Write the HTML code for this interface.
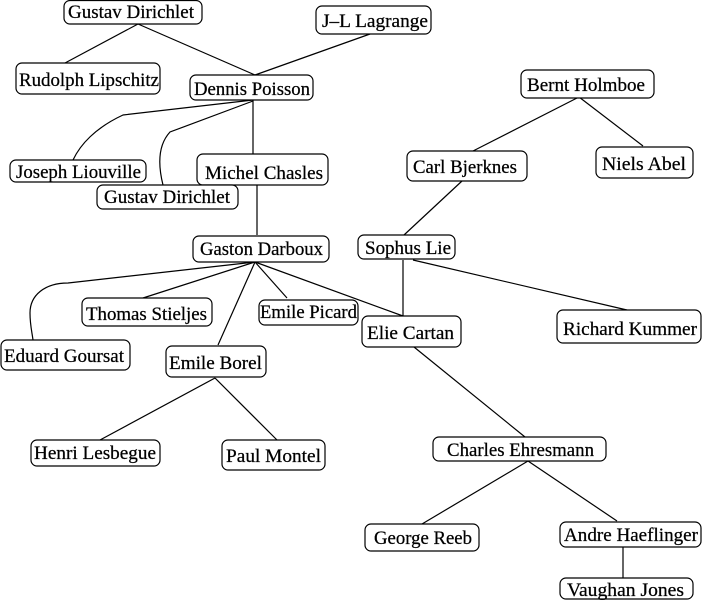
<!DOCTYPE html>
<html><head><meta charset="utf-8"><style>html,body{margin:0;padding:0;background:#fff}svg{display:block}
text{font-family:"Liberation Serif","Times New Roman",Times,serif;font-size:19px}</style></head>
<body>
<svg width="703" height="600" viewBox="0 0 703 600" xmlns="http://www.w3.org/2000/svg">
<g stroke="#000" stroke-width="1.2" fill="none">
<line x1="138" y1="24" x2="65" y2="63"/>
<line x1="138" y1="24" x2="255" y2="75"/>
<line x1="370" y1="34" x2="255" y2="75"/>
<path d="M253 100 L123 115 C95 128 80 145 73 160"/>
<path d="M253 101 L170 132 C158 145 158 165 163 185"/>
<line x1="253" y1="100" x2="253" y2="154"/>
<line x1="257" y1="185" x2="257" y2="235"/>
<path d="M255 262 L68 283 C45 283 30 295 30 313 C30 325 32 332 33 340"/>
<line x1="255" y1="262" x2="143" y2="298"/>
<line x1="255" y1="262" x2="287" y2="298"/>
<line x1="255" y1="262" x2="218" y2="345"/>
<line x1="255" y1="262" x2="403" y2="316"/>
<line x1="215" y1="378" x2="100" y2="440"/>
<line x1="215" y1="378" x2="277" y2="440"/>
<line x1="579" y1="97" x2="473" y2="151"/>
<line x1="579" y1="97" x2="643" y2="146"/>
<line x1="462" y1="181" x2="404" y2="235"/>
<line x1="403" y1="260" x2="403" y2="317"/>
<line x1="413" y1="260" x2="627" y2="310"/>
<line x1="414" y1="347" x2="525" y2="437"/>
<line x1="528" y1="461" x2="422" y2="524"/>
<line x1="528" y1="461" x2="617" y2="521"/>
<line x1="623" y1="547" x2="623" y2="578"/>
</g>
<g stroke="#000" stroke-width="1.2" fill="#fff">
<rect x="64" y="0.5" width="138" height="23.5" rx="6"/>
<rect x="316" y="6" width="115" height="28" rx="6"/>
<rect x="16" y="63" width="144" height="31" rx="6"/>
<rect x="190" y="75" width="123" height="25" rx="6"/>
<rect x="10" y="160" width="136" height="22" rx="6"/>
<rect x="197" y="154" width="131" height="31" rx="6"/>
<rect x="97" y="185" width="141" height="24" rx="6"/>
<rect x="193" y="236" width="136" height="26" rx="6"/>
<rect x="358" y="235" width="97" height="24" rx="6"/>
<rect x="521" y="70" width="133" height="28" rx="6"/>
<rect x="407" y="151" width="120" height="30" rx="6"/>
<rect x="596" y="147" width="97" height="31" rx="6"/>
<rect x="82" y="298" width="130" height="28" rx="6"/>
<rect x="259" y="300" width="99" height="25" rx="6"/>
<rect x="362" y="316" width="99" height="31" rx="6"/>
<rect x="557" y="310" width="144" height="33" rx="6"/>
<rect x="1" y="340" width="129" height="30" rx="6"/>
<rect x="166" y="346" width="100" height="31" rx="6"/>
<rect x="31" y="440" width="129" height="26" rx="6"/>
<rect x="222" y="440" width="103" height="30" rx="6"/>
<rect x="433" y="437" width="173" height="24" rx="6"/>
<rect x="365" y="524" width="114" height="27" rx="6"/>
<rect x="560" y="522" width="141" height="25" rx="6"/>
<rect x="560" y="578" width="133" height="21" rx="6"/>
</g>
<g fill="#000" stroke="#000" stroke-width="0.25">
<text x="68" y="18" textLength="126" lengthAdjust="spacingAndGlyphs">Gustav Dirichlet</text>
<text x="322" y="27" textLength="106" lengthAdjust="spacingAndGlyphs">J–L Lagrange</text>
<text x="19" y="86" textLength="140" lengthAdjust="spacingAndGlyphs">Rudolph Lipschitz</text>
<text x="194" y="95" textLength="116" lengthAdjust="spacingAndGlyphs">Dennis Poisson</text>
<text x="16" y="178" textLength="125" lengthAdjust="spacingAndGlyphs">Joseph Liouville</text>
<text x="205" y="179" textLength="118" lengthAdjust="spacingAndGlyphs">Michel Chasles</text>
<text x="104" y="203" textLength="126" lengthAdjust="spacingAndGlyphs">Gustav Dirichlet</text>
<text x="200" y="255" textLength="123" lengthAdjust="spacingAndGlyphs">Gaston Darboux</text>
<text x="365" y="254" textLength="86" lengthAdjust="spacingAndGlyphs">Sophus Lie</text>
<text x="527" y="91" textLength="118" lengthAdjust="spacingAndGlyphs">Bernt Holmboe</text>
<text x="413" y="173" textLength="104" lengthAdjust="spacingAndGlyphs">Carl Bjerknes</text>
<text x="602" y="170" textLength="84" lengthAdjust="spacingAndGlyphs">Niels Abel</text>
<text x="86" y="320" textLength="121" lengthAdjust="spacingAndGlyphs">Thomas Stieljes</text>
<text x="260" y="318" textLength="97" lengthAdjust="spacingAndGlyphs">Emile Picard</text>
<text x="367" y="339" textLength="87" lengthAdjust="spacingAndGlyphs">Elie Cartan</text>
<text x="563" y="335" textLength="134" lengthAdjust="spacingAndGlyphs">Richard Kummer</text>
<text x="4" y="362" textLength="120" lengthAdjust="spacingAndGlyphs">Eduard Goursat</text>
<text x="169" y="369" textLength="93" lengthAdjust="spacingAndGlyphs">Emile Borel</text>
<text x="34" y="459" textLength="122" lengthAdjust="spacingAndGlyphs">Henri Lesbegue</text>
<text x="226" y="462" textLength="95" lengthAdjust="spacingAndGlyphs">Paul Montel</text>
<text x="447" y="456" textLength="147" lengthAdjust="spacingAndGlyphs">Charles Ehresmann</text>
<text x="374" y="544" textLength="98" lengthAdjust="spacingAndGlyphs">George Reeb</text>
<text x="564" y="541" textLength="134" lengthAdjust="spacingAndGlyphs">Andre Haeflinger</text>
<text x="567" y="596" textLength="117" lengthAdjust="spacingAndGlyphs">Vaughan Jones</text>
</g>
</svg>
</body></html>
